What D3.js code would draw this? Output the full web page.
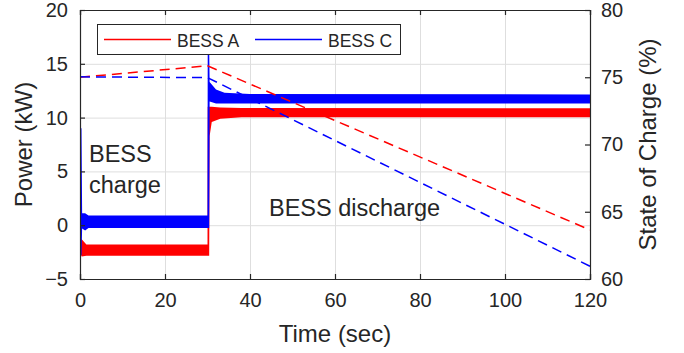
<!DOCTYPE html>
<html>
<head>
<meta charset="utf-8">
<script src="https://cdn.jsdelivr.net/npm/d3@7"></script>
<style>
  html, body { margin: 0; padding: 0; background: #fff; }
  #chart { width: 684px; height: 353px; }
  text { font-family: "Liberation Sans", Arial, sans-serif; fill: #262626; }
</style>
</head>
<body>
<div id="chart"></div>
<script>
// power envelopes (kW) - the traces oscillate fast, so keep upper/lower bounds
const timeA  = [0, 0.4, 1.5, 30, 30.05, 30.4, 30.5, 31, 33, 38, 120];
const upperA = [-1.3, -1.3, -1.8, -1.8, 11.0, 11.0, 11.0, 11.0, 10.95, 10.9, 10.86];
const lowerA = [-2.6, -2.9, -2.85, -2.85, -2.85, -2.85, 8.3, 9.6, 9.9, 10.03, 10.03];

const timeC  = [0, 0.35, 0.5, 1.2, 2, 30, 30.05, 30.4, 30.5, 32, 34, 40, 120];
const upperC = [9.0, 9.0, 1.1, 1.1, 0.9, 0.9, 16.2, 16.2, 13.3, 12.6, 12.3, 12.2, 12.15];
const lowerC = [-2.8, -2.8, -0.3, -0.5, -0.25, -0.25, -0.25, -0.25, 11.5, 11.3, 11.3, 11.3, 11.3];

// state of charge (%)
const socTime = [0, 30, 120];
const socA = [75.0, 75.85, 63.65];
const socC = [75.03, 74.97, 60.95];

const xTicks = [0, 20, 40, 60, 80, 100, 120];
const powerTicks = [-5, 0, 5, 10, 15, 20];
const socTicks = [60, 65, 70, 75, 80];

const legendNames = ["BESS A", "BESS C"];
const colors = ["#ff0000", "#0000ff"];

const width = 684, height = 353;
const margin = { top: 10, right: 94, bottom: 74, left: 80 };
const axisColor = "#262626";

const svg = d3.select("#chart").append("svg")
  .attr("width", width)
  .attr("height", height);

const x = d3.scaleLinear().domain([0, 120]).range([margin.left, width - margin.right]);
const yP = d3.scaleLinear().domain([-5, 20]).range([height - margin.bottom, margin.top]);
const yS = d3.scaleLinear().domain([60, 80]).range([height - margin.bottom, margin.top]);

// grid
const grid = svg.append("g").attr("stroke", "#dedede").attr("stroke-width", 1);
grid.selectAll(".gx").data(xTicks).enter().append("line")
  .attr("x1", d => x(d) + 0.5).attr("x2", d => x(d) + 0.5)
  .attr("y1", margin.top).attr("y2", height - margin.bottom);
grid.selectAll(".gy").data(powerTicks).enter().append("line")
  .attr("x1", margin.left).attr("x2", width - margin.right)
  .attr("y1", d => yP(d) + 0.5).attr("y2", d => yP(d) + 0.5);

// power bands
function band(t, up, lo) {
  return d3.area()
    .x((d, i) => x(t[i]))
    .y0((d, i) => yP(lo[i]))
    .y1((d, i) => yP(up[i]))(t);
}
svg.append("path").attr("d", band(timeA, upperA, lowerA)).attr("fill", colors[0]);
svg.append("path").attr("d", band(timeC, upperC, lowerC)).attr("fill", colors[1]);

// soc dashed lines
const socLine = vals => d3.line().x((d, i) => x(socTime[i])).y((d, i) => yS(vals[i]))(socTime);
[socA, socC].forEach((vals, k) => {
  svg.append("path").attr("d", socLine(vals))
    .attr("fill", "none")
    .attr("stroke", colors[k])
    .attr("stroke-width", 1.5)
    .attr("stroke-dasharray", "10,6");
});

// axes, ticks inward
const tickLen = 5;
svg.append("g").attr("transform", `translate(0,${height - margin.bottom})`)
  .call(d3.axisBottom(x).tickValues(xTicks).tickSize(-tickLen).tickPadding(14));
svg.append("g").attr("transform", `translate(0,${margin.top})`)
  .call(d3.axisTop(x).tickValues(xTicks).tickSize(-tickLen).tickFormat(""));
svg.append("g").attr("transform", `translate(${margin.left},0)`)
  .call(d3.axisLeft(yP).tickValues(powerTicks).tickSize(-tickLen).tickPadding(12));
svg.append("g").attr("transform", `translate(${width - margin.right},0)`)
  .call(d3.axisRight(yS).tickValues(socTicks).tickSize(-tickLen).tickPadding(11));

svg.selectAll(".domain").attr("stroke", axisColor).attr("stroke-width", 1.2);
svg.selectAll(".tick line").attr("stroke", axisColor).attr("stroke-width", 1.2);
svg.selectAll(".tick text").attr("font-size", 20).attr("fill", axisColor)
  .attr("font-family", "Liberation Sans, Arial, sans-serif");

// axis titles
svg.append("text")
  .attr("x", (margin.left + width - margin.right) / 2).attr("y", 342)
  .attr("text-anchor", "middle").attr("font-size", 24)
  .text("Time (sec)");
svg.append("text")
  .attr("transform", `translate(32,${(margin.top + height - margin.bottom) / 2}) rotate(-90)`)
  .attr("text-anchor", "middle").attr("font-size", 24)
  .text("Power (kW)");
svg.append("text")
  .attr("transform", `translate(656,${(margin.top + height - margin.bottom) / 2}) rotate(-90)`)
  .attr("text-anchor", "middle").attr("font-size", 24)
  .text("State of Charge (%)");

// annotations
svg.append("text").attr("x", 89).attr("y", 162).attr("font-size", 23.5).attr("fill", "#000").text("BESS");
svg.append("text").attr("x", 89).attr("y", 193).attr("font-size", 23.5).attr("fill", "#000").text("charge");
svg.append("text").attr("x", 269).attr("y", 216).attr("font-size", 23.5).attr("fill", "#000").text("BESS discharge");

// legend
const legend = svg.append("g");
legend.append("rect")
  .attr("x", 97.5).attr("y", 24.5).attr("width", 303).attr("height", 30)
  .attr("fill", "#fff").attr("stroke", axisColor).attr("stroke-width", 1);
const legX = [104, 255];
legendNames.forEach((name, i) => {
  legend.append("line")
    .attr("x1", legX[i]).attr("x2", legX[i] + 67)
    .attr("y1", 39.5).attr("y2", 39.5)
    .attr("stroke", colors[i]).attr("stroke-width", 1.5);
  legend.append("text")
    .attr("x", legX[i] + 73).attr("y", 46.5)
    .attr("font-size", 17.5).attr("fill", "#000")
    .text(name);
});
</script>
</body>
</html>
